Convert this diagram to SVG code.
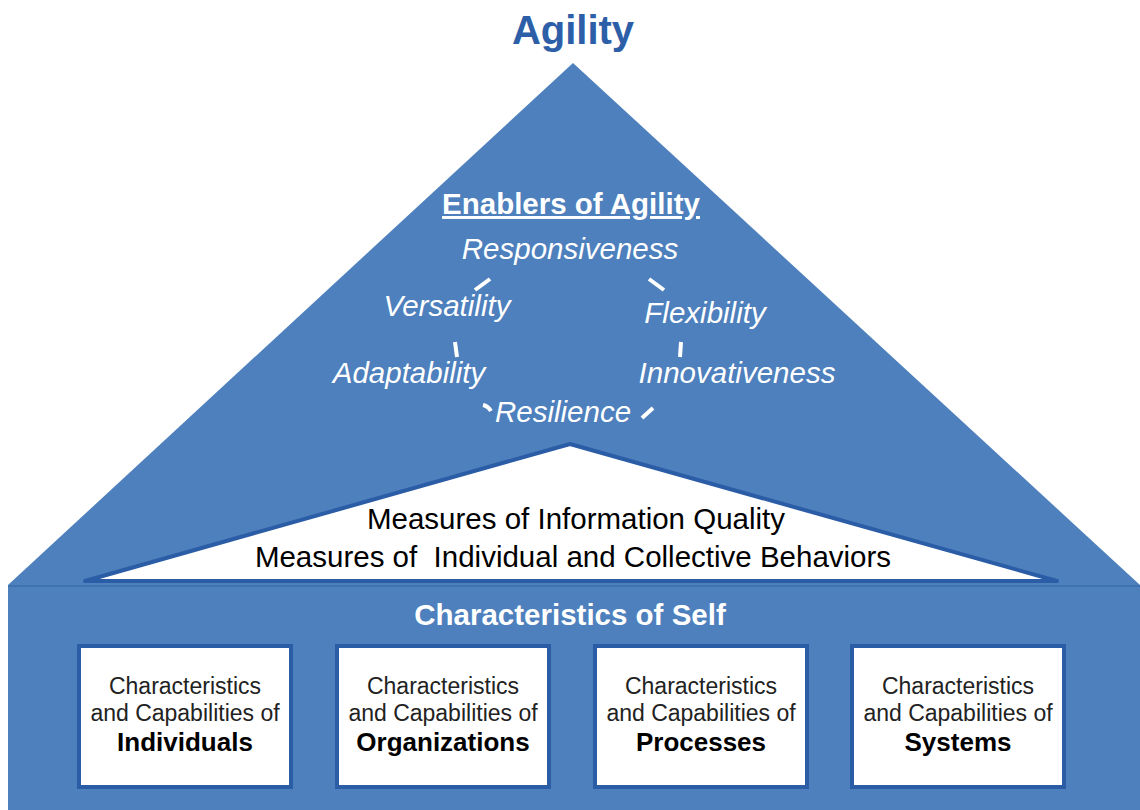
<svg xmlns="http://www.w3.org/2000/svg" width="1140" height="810" viewBox="0 0 1140 810">
<style>
.w{font-family:"Liberation Sans",Arial,sans-serif;fill:#fff}
.it{font-style:italic;font-size:29.5px}
.m{font-family:"Liberation Sans",Arial,sans-serif;fill:#000;font-size:29.5px}
.bx{fill:#fff;stroke:#2b5ca6;stroke-width:4}
.bt{font-family:"Liberation Sans",Arial,sans-serif;fill:#222;font-size:23px;text-anchor:middle}
.bb{font-family:"Liberation Sans",Arial,sans-serif;fill:#000;font-size:26px;font-weight:bold;text-anchor:middle}
.d{stroke:#fff;stroke-width:4;stroke-linecap:butt;fill:none}
</style>
<rect width="1140" height="810" fill="#fff"/>
<text x="573" y="44" text-anchor="middle" font-family="Liberation Sans,Arial,sans-serif" font-weight="bold" font-size="40" fill="#2d5fa8">Agility</text>
<g id="pyramid">
<polygon points="573,63 1140,585 8,585" fill="#4d80bd"/>
</g>
<g id="measures">
<polygon points="570,444 1057,581 85,581" fill="#fff" stroke="#2b5ca6" stroke-width="4" stroke-linejoin="round"/>
<text class="m" x="576" y="529" text-anchor="middle">Measures of Information Quality</text>
<text class="m" x="573" y="567" text-anchor="middle" xml:space="preserve">Measures of  Individual and Collective Behaviors</text>
</g>
<g id="enablers">
<text class="w" x="571" y="214" text-anchor="middle" font-weight="bold" font-size="29.5" text-decoration="underline">Enablers of Agility</text>
<text class="w it" x="570" y="259" text-anchor="middle">Responsiveness</text>
<text class="w it" x="447" y="316" text-anchor="middle">Versatility</text>
<text class="w it" x="705" y="323" text-anchor="middle">Flexibility</text>
<text class="w it" x="409" y="383" text-anchor="middle">Adaptability</text>
<text class="w it" x="737" y="383" text-anchor="middle">Innovativeness</text>
<text class="w it" x="563" y="422" text-anchor="middle">Resilience</text>
</g>
<g id="connectors">
<path class="d" d="M475,290 L490,279"/>
<path class="d" d="M649,279 L664,290"/>
<path class="d" d="M455,342 L457,357"/>
<path class="d" d="M681,342 L680,357"/>
<path class="d" d="M483,405 Q488,406 491,411"/>
<path class="d" d="M642,418 L653,408"/>
</g>
<g id="self">
<rect x="8" y="585" width="1132" height="225" fill="#4d80bd"/>
<line x1="8" y1="586" x2="1140" y2="586" stroke="#3f72b0" stroke-width="2"/>
<text class="w" x="570" y="625" text-anchor="middle" font-weight="bold" font-size="29.5">Characteristics of Self</text>
</g>
<g id="individuals">
<rect class="bx" x="79" y="646" width="212" height="141"/>
<text class="bt" x="185" y="694">Characteristics</text>
<text class="bt" x="185" y="721">and Capabilities of</text>
<text class="bb" x="185" y="751">Individuals</text>
</g>
<g id="organizations">
<rect class="bx" x="337" y="646" width="212" height="141"/>
<text class="bt" x="443" y="694">Characteristics</text>
<text class="bt" x="443" y="721">and Capabilities of</text>
<text class="bb" x="443" y="751">Organizations</text>
</g>
<g id="processes">
<rect class="bx" x="595" y="646" width="212" height="141"/>
<text class="bt" x="701" y="694">Characteristics</text>
<text class="bt" x="701" y="721">and Capabilities of</text>
<text class="bb" x="701" y="751">Processes</text>
</g>
<g id="systems">
<rect class="bx" x="852" y="646" width="212" height="141"/>
<text class="bt" x="958" y="694">Characteristics</text>
<text class="bt" x="958" y="721">and Capabilities of</text>
<text class="bb" x="958" y="751">Systems</text>
</g>
</svg>
